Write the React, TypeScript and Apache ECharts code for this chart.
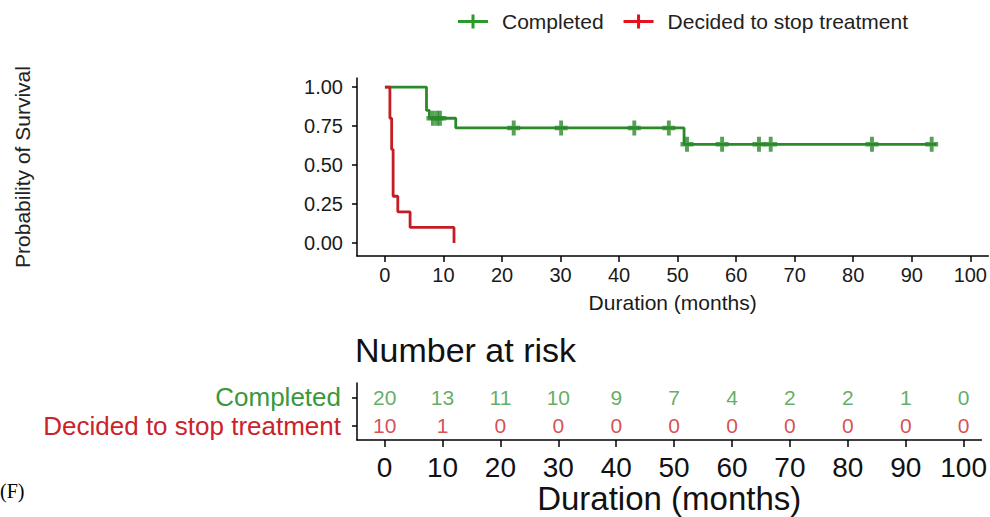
import React, { useEffect, useRef } from "react";
import * as echarts from "echarts";

// ---- data ----
const completedCurve: [number, number][] = [
  [0, 1.0], [7.1, 0.85], [7.6, 0.8], [12.1, 0.738], [51.1, 0.633], [94.2, 0.633],
];
const completedCensor: [number, number][] = [
  [8.2, 0.8], [8.9, 0.8], [9.4, 0.8],
  [22.0, 0.738], [30.1, 0.738], [42.6, 0.738], [48.5, 0.738],
  [51.6, 0.633], [57.6, 0.633], [63.9, 0.633], [65.9, 0.633], [83.2, 0.633], [93.4, 0.633],
];
const stopCurve: [number, number][] = [
  [0, 1.0], [0.85, 0.8], [1.15, 0.6], [1.4, 0.3], [2.2, 0.2], [4.3, 0.1], [11.8, 0.0],
];
const xTicks = [0, 10, 20, 30, 40, 50, 60, 70, 80, 90, 100];
const yTicks = [0, 0.25, 0.5, 0.75, 1.0];
const riskTimes = [0, 10, 20, 30, 40, 50, 60, 70, 80, 90, 100];
const riskCompleted = [20, 13, 11, 10, 9, 7, 4, 2, 2, 1, 0];
const riskStop = [10, 1, 0, 0, 0, 0, 0, 0, 0, 0, 0];
const groups = ["Completed", "Decided to stop treatment"];

const GREEN = "#2A8A2A";
const RED = "#C41E24";
const GREEN_TXT = "#3A983A";
const RED_TXT = "#CC2229";
const FONT = "Liberation Sans";
const PLUS = "path://M3.5,0 H6.5 V3.5 H10 V6.5 H6.5 V10 H3.5 V6.5 H0 V3.5 H3.5 Z";
const LEGEND_ICON = "path://M0,5.5 H30 V8.5 H0 Z M13.5,0 H16.5 V14 H13.5 Z";

export default function App() {
  const ref = useRef<HTMLDivElement>(null);
  useEffect(() => {
    if (!ref.current) return;
    const chart = echarts.init(ref.current, undefined, { renderer: "svg" });
    const xMin = -4.77;
    const xMax = 103.07;
    const axisLine = { show: true, onZero: false, lineStyle: { color: "#000", width: 1.5 } };
    chart.setOption({
      animation: false,
      backgroundColor: "#fff",
      textStyle: { fontFamily: FONT },
      title: {
        text: "Number at risk",
        left: 355,
        top: 333,
        padding: 0,
        textStyle: { fontFamily: FONT, fontSize: 34, fontWeight: "normal", color: "#111" },
      },
      legend: {
        left: 458,
        top: 11,
        padding: 0,
        itemGap: 20,
        itemWidth: 30,
        itemHeight: 14,
        textStyle: { fontFamily: FONT, fontSize: 21, color: "#222", padding: [0, 0, 0, 9] },
        data: [
          { name: groups[0], icon: LEGEND_ICON, itemStyle: { color: "#2A9A2A" } },
          { name: groups[1], icon: LEGEND_ICON, itemStyle: { color: "#E8101A" } },
        ],
      },
      graphic: [
        {
          type: "text",
          left: 0,
          top: 481,
          style: { text: "(F)", font: '20px "Liberation Serif"', fill: "#000" },
        },
      ],
      grid: [
        { left: 357, top: 78, width: 633, height: 178 },
        { left: 357, top: 383, width: 633, height: 57 },
      ],
      xAxis: [
        {
          gridIndex: 0,
          type: "value",
          min: xMin,
          max: xMax,
          axisLine,
          splitLine: { show: false },
          axisTick: { show: true, customValues: xTicks, length: 6, lineStyle: { color: "#000", width: 1.5 } },
          axisLabel: { customValues: xTicks, fontSize: 20, color: "#1a1a1a", margin: 9, fontFamily: FONT },
          name: "Duration (months)",
          nameLocation: "middle",
          nameGap: 36,
          nameTextStyle: { fontSize: 21, color: "#1a1a1a", fontFamily: FONT },
        },
        {
          gridIndex: 1,
          type: "value",
          min: xMin,
          max: xMax,
          axisLine,
          splitLine: { show: false },
          axisTick: { show: true, customValues: xTicks, length: 7, lineStyle: { color: "#000", width: 1.5 } },
          axisLabel: { customValues: xTicks, fontSize: 28, color: "#111", margin: 13, fontFamily: FONT },
          name: "Duration (months)",
          nameLocation: "middle",
          nameGap: 42,
          nameTextStyle: { fontSize: 33, color: "#111", fontFamily: FONT },
        },
      ],
      yAxis: [
        {
          gridIndex: 0,
          type: "value",
          min: -0.083,
          max: 1.058,
          axisLine,
          splitLine: { show: false },
          axisTick: { show: true, customValues: yTicks, length: 5, lineStyle: { color: "#000", width: 1.5 } },
          axisLabel: {
            customValues: yTicks,
            fontSize: 20,
            color: "#1a1a1a",
            margin: 14,
            fontFamily: FONT,
            formatter: (v: number) => v.toFixed(2),
          },
          name: "Probability of Survival",
          nameLocation: "middle",
          nameGap: 324,
          nameTextStyle: { fontSize: 21, color: "#222", fontFamily: FONT },
        },
        {
          gridIndex: 1,
          type: "category",
          data: [groups[1], groups[0]],
          axisLine,
          splitLine: { show: false },
          axisTick: { show: true, alignWithLabel: true, interval: 0, length: 5, lineStyle: { color: "#000", width: 1.5 } },
          axisLabel: {
            interval: 0,
            fontSize: 26,
            margin: 16,
            fontFamily: FONT,
            color: (v: string) => (v === groups[0] ? GREEN_TXT : RED_TXT),
          },
        },
      ],
      series: [
        {
          name: groups[0],
          type: "line",
          xAxisIndex: 0,
          yAxisIndex: 0,
          step: "end",
          showSymbol: false,
          data: completedCurve,
          lineStyle: { color: GREEN, width: 2.8 },
          itemStyle: { color: GREEN },
        },
        {
          name: groups[1],
          type: "line",
          xAxisIndex: 0,
          yAxisIndex: 0,
          step: "end",
          showSymbol: false,
          data: stopCurve,
          lineStyle: { color: RED, width: 2.8 },
          itemStyle: { color: RED },
        },
        {
          name: "censor-completed",
          type: "scatter",
          xAxisIndex: 0,
          yAxisIndex: 0,
          symbol: PLUS,
          symbolSize: [13, 15],
          data: completedCensor,
          itemStyle: { color: GREEN },
        },
        {
          name: "risk-completed",
          type: "scatter",
          xAxisIndex: 1,
          yAxisIndex: 1,
          symbolSize: 1,
          itemStyle: { color: "transparent" },
          data: riskTimes.map((t, i) => [t, groups[0], riskCompleted[i]]),
          label: {
            show: true,
            position: "inside",
            formatter: (p: any) => String(p.value[2]),
            fontSize: 21,
            color: GREEN_TXT,
            fontFamily: FONT,
          },
        },
        {
          name: "risk-stop",
          type: "scatter",
          xAxisIndex: 1,
          yAxisIndex: 1,
          symbolSize: 1,
          itemStyle: { color: "transparent" },
          data: riskTimes.map((t, i) => [t, groups[1], riskStop[i]]),
          label: {
            show: true,
            position: "inside",
            formatter: (p: any) => String(p.value[2]),
            fontSize: 21,
            color: RED_TXT,
            fontFamily: FONT,
          },
        },
      ],
    });
    return () => chart.dispose();
  }, []);
  return (
    <div
      ref={ref}
      style={{ position: "absolute", left: 0, top: 0, width: 990, height: 517 }}
    />
  );
}
